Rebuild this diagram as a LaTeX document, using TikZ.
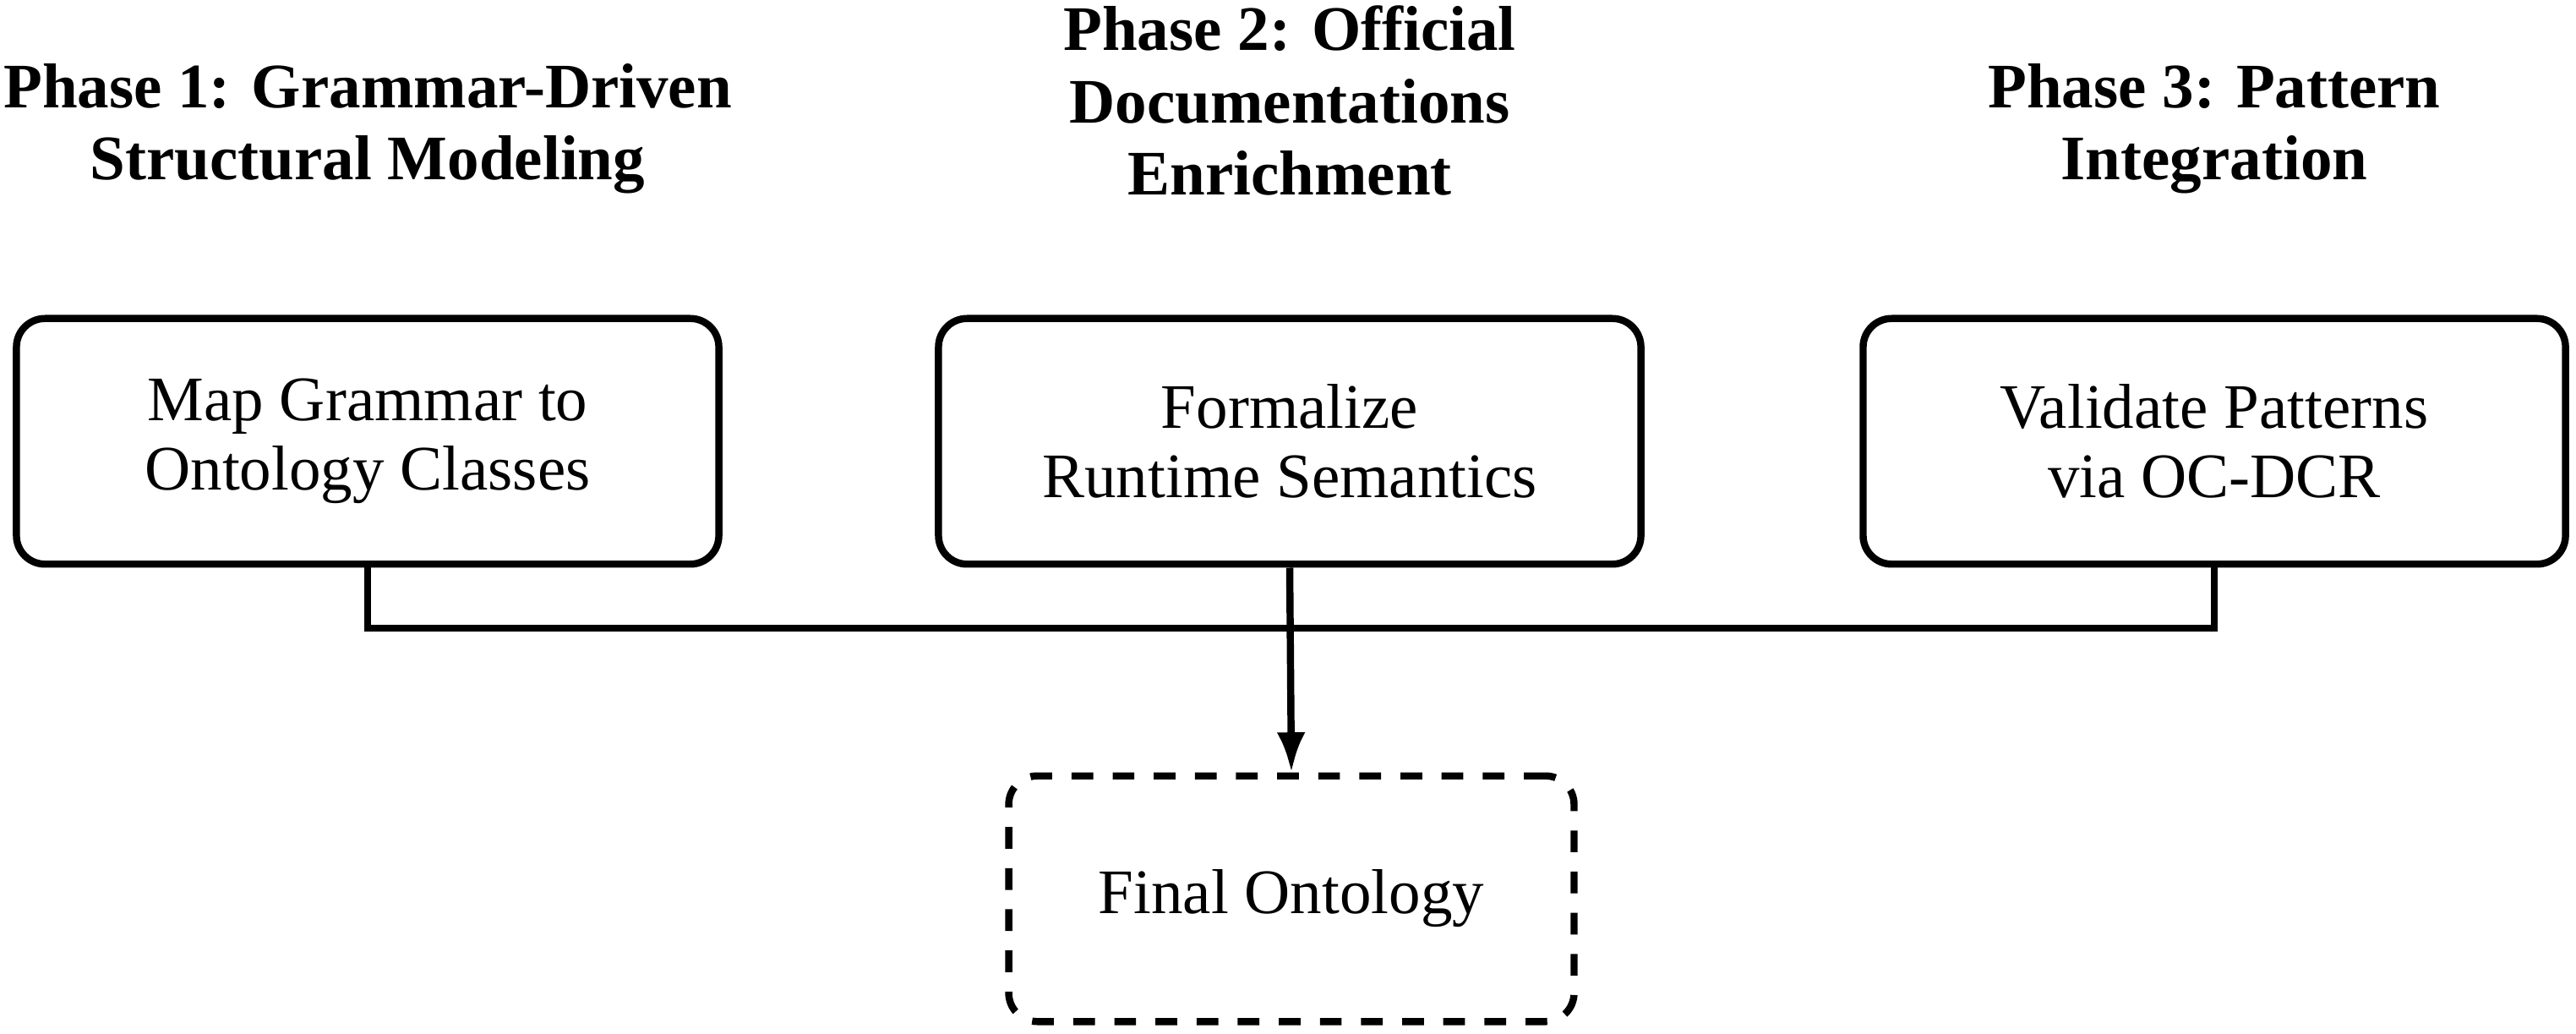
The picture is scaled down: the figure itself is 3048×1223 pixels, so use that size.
\documentclass[tikz,border=0pt]{standalone}
\usepackage{fontspec}
\setmainfont{Liberation Serif}
\usetikzlibrary{arrows.meta}
\begin{document}
\begin{tikzpicture}[x=0.148pt,y=-0.148pt,
  stage/.style={draw, line width=1.25pt, rounded corners=5pt, minimum width=123pt, minimum height=43pt, align=center, inner sep=0pt, font=\fontsize{11.1}{12.2}\selectfont},
  result/.style={stage, dash pattern=on 3.8pt off 3.4pt, minimum width=99pt},
  phase/.style={align=center, font=\fontsize{11.1}{12.6}\selectfont\bfseries, inner sep=0pt},
  link/.style={line width=1.25pt}]
\useasboundingbox (0,0) rectangle (3048,1223);
\node[phase] (p1) at (435,152) {Phase 1: Grammar-Driven\\Structural Modeling};
\node[phase] (p2) at (1526,119) {Phase 2: Official\\Documentations\\Enrichment};
\node[phase] (p3) at (2620,152) {Phase 3: Pattern\\Integration};
\node[stage] (b1) at (435,522) {Map Grammar to\\Ontology Classes};
\node[stage] (b2) at (1526,522) {Formalize\\Runtime Semantics};
\node[stage] (b3) at (2620,522) {Validate Patterns\\via OC-DCR};
\node[result] (f) at (1528,1063) {Final Ontology};
\coordinate (j) at (1526,743);
\draw[link] (b1.south) |- (j) -| (b3.south);
\draw[link,-{Latex[length=7pt,width=5pt]}] (b2.south) -- (f.north);
\end{tikzpicture}
\end{document}
